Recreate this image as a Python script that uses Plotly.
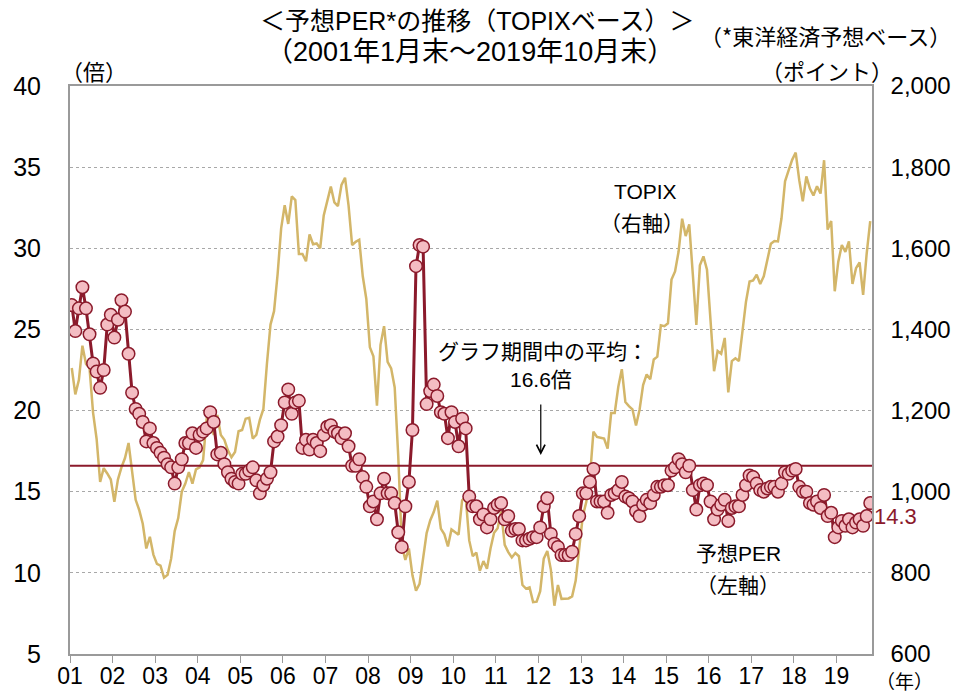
import plotly.graph_objects as go

# x軸の年ラベル
years = ["01", "02", "03", "04", "05", "06", "07", "08", "09", "10",
         "11", "12", "13", "14", "15", "16", "17", "18", "19"]

# 予想PER（倍） 2001年1月末～2019年10月末
per = [
    26.5, 24.9, 26.3, 27.6, 26.3, 24.7, 22.9, 22.4, 21.4, 22.5, 25.3, 25.9,   # 2001
    24.5, 25.6, 26.8, 26.1, 23.5, 21.1, 20.1, 19.8, 19.3, 18.1, 18.9, 18.0,   # 2002
    17.7, 17.4, 17.1, 16.7, 16.5, 15.5, 16.5, 17.0, 18.0, 18.0, 18.6, 17.7,   # 2003
    18.5, 18.7, 18.9, 19.9, 19.3, 17.3, 17.4, 16.7, 16.2, 15.8, 15.6, 15.5,   # 2004
    16.1, 16.1, 16.3, 16.5, 15.7, 14.9, 15.4, 15.8, 16.2, 18.1, 18.4, 19.1,   # 2005
    20.5, 21.3, 19.8, 20.5, 20.6, 17.7, 18.2, 17.6, 18.2, 18.0, 17.5, 18.5,   # 2006
    19.0, 19.1, 18.7, 18.6, 18.3, 18.6, 17.8, 16.6, 16.6, 17.0, 15.9, 15.3,   # 2007
    14.1, 14.4, 13.3, 14.9, 15.8, 14.9, 14.9, 14.3, 12.5, 11.6, 14.1, 15.6,   # 2008
    18.8, 28.9, 30.2, 30.1, 20.4, 21.2, 21.6, 20.9, 19.9, 19.8, 18.3, 19.9,   # 2009
    19.3, 17.8, 19.5, 18.9, 14.7, 14.1, 14.1, 13.3, 13.6, 12.8, 13.3, 14.0,   # 2010
    14.2, 14.3, 13.3, 13.5, 12.6, 12.7, 12.7, 12.0, 12.0, 12.1, 12.2, 12.2,   # 2011
    12.8, 14.1, 14.6, 12.4, 11.8, 11.6, 11.1, 11.1, 11.1, 11.3, 12.4, 13.5,   # 2012
    14.9, 14.9, 15.6, 16.4, 14.4, 14.4, 14.4, 13.7, 14.8, 14.9, 15.1, 15.6,   # 2013
    14.7, 14.6, 14.4, 13.8, 13.5, 14.2, 14.5, 14.3, 14.8, 15.3, 15.3, 15.4,   # 2014
    15.4, 16.3, 16.5, 17.0, 16.7, 16.2, 16.6, 15.1, 13.9, 15.4, 15.5, 15.4,   # 2015
    14.4, 13.3, 13.9, 14.2, 14.5, 13.2, 14.0, 14.1, 14.1, 14.8, 15.4, 16.0,   # 2016
    15.9, 15.5, 15.1, 15.0, 15.2, 15.3, 15.3, 15.0, 15.5, 16.2, 16.1, 16.3,   # 2017
    16.4, 15.3, 15.0, 15.0, 14.3, 14.2, 14.4, 14.0, 14.8, 13.5, 13.7, 12.2,   # 2018
    12.8, 13.2, 12.9, 13.3, 12.8, 13.1, 13.3, 12.9, 13.5, 14.3,               # 2019
]

# TOPIX（ポイント） 同期間の月末値
topix = [
    1305, 1240, 1275, 1360, 1315, 1305, 1195, 1130, 1024, 1058, 1045, 1030,   # 2001
    975, 1030, 1060, 1083, 1120, 1050, 980, 955, 921, 860, 889, 845,          # 2002
    822, 818, 788, 795, 835, 903, 935, 1000, 1020, 1048, 1020, 1055,          # 2003
    1060, 1078, 1179, 1190, 1140, 1189, 1140, 1128, 1102, 1085, 1098, 1149,   # 2004
    1152, 1180, 1182, 1131, 1140, 1177, 1204, 1316, 1412, 1445, 1536, 1649,   # 2005
    1706, 1660, 1728, 1719, 1586, 1586, 1568, 1634, 1610, 1612, 1600, 1681,   # 2006
    1715, 1752, 1713, 1704, 1756, 1774, 1705, 1608, 1616, 1621, 1531, 1475,   # 2007
    1356, 1334, 1212, 1362, 1408, 1320, 1304, 1257, 1087, 867, 832, 860,      # 2008
    794, 756, 773, 837, 898, 929, 950, 978, 909, 895, 865, 907,               # 2009
    901, 894, 979, 987, 880, 841, 850, 805, 829, 810, 860, 899,               # 2010
    910, 951, 869, 851, 838, 849, 841, 770, 761, 764, 728, 729,               # 2011
    755, 835, 854, 808, 719, 770, 736, 737, 737, 742, 781, 860,               # 2012
    940, 975, 1034, 1148, 1135, 1133, 1131, 1106, 1194, 1194, 1258, 1302,     # 2013
    1221, 1211, 1203, 1163, 1202, 1263, 1289, 1277, 1326, 1333, 1410, 1408,   # 2014
    1415, 1523, 1543, 1592, 1673, 1630, 1659, 1537, 1411, 1558, 1580, 1547,   # 2015
    1432, 1297, 1347, 1340, 1379, 1245, 1322, 1329, 1322, 1393, 1469, 1518,   # 2016
    1521, 1535, 1512, 1531, 1568, 1611, 1618, 1617, 1674, 1765, 1792, 1818,   # 2017
    1836, 1768, 1716, 1777, 1747, 1730, 1753, 1735, 1817, 1646, 1667, 1494,   # 2018
    1567, 1608, 1591, 1617, 1512, 1551, 1565, 1485, 1587, 1667,               # 2019
]

per_avg = 16.6

FONT = "Liberation Sans, Noto Sans CJK JP, sans-serif"
JP_FONT = "Noto Sans CJK JP, sans-serif"
RED = "#8B1A2B"
PINK = "#F4BDC3"
GOLD = "#D3B669"
BORDER = "#9A9A9A"


def label(fig, text, x, y, size=21, color="black", family=FONT):
    fig.add_annotation(text=text, x=x, y=y, xref="paper", yref="paper",
                       xanchor="center", yanchor="middle", showarrow=False,
                       font=dict(family=family, size=size, color=color))


def build():
    months = list(range(len(per)))
    fig = go.Figure()
    # TOPIXは下の軸（右側）、PERは上に重ねる軸（左側）に描く
    fig.add_trace(go.Scatter(x=months, y=topix, mode="lines", yaxis="y",
                             line=dict(color=GOLD, width=2.5), name="TOPIX"))
    fig.add_trace(go.Scatter(x=[months[0] - 0.5, months[-1] + 0.5], y=[per_avg, per_avg],
                             mode="lines", yaxis="y2", line=dict(color=RED, width=2),
                             name="平均"))
    fig.add_trace(go.Scatter(x=months, y=per, mode="lines+markers", yaxis="y2",
                             line=dict(color=RED, width=3),
                             marker=dict(size=12.5, color=PINK, line=dict(color=RED, width=1.5)),
                             name="予想PER"))

    # ページ本体の余白(8px)を差し引いた大きさにする
    fig.update_layout(
        width=954, height=685,
        margin=dict(l=62, r=90, t=78, b=39),
        paper_bgcolor="white", plot_bgcolor="white",
        showlegend=False,
        font=dict(family=FONT, size=20, color="black"),
        xaxis=dict(range=[-0.5, len(per) - 0.5], automargin=False,
                   tickvals=[i * 12 - 0.5 for i in range(len(years))],
                   ticktext=years, ticks="outside", ticklen=7, tickcolor=BORDER,
                   ticklabelstandoff=-6,
                   showline=True, linecolor=BORDER, linewidth=1.5, mirror=True,
                   showgrid=False, zeroline=False, tickfont=dict(size=23)),
        yaxis=dict(side="right", range=[600, 2000], dtick=200, tickformat=",",
                   automargin=False,
                   showgrid=True, gridcolor="#A8A8A8", griddash="dot", gridwidth=1,
                   showline=True, linecolor=BORDER, linewidth=1.5, mirror=True,
                   zeroline=False, ticks="", ticklabelstandoff=12, tickfont=dict(size=24)),
        yaxis2=dict(side="left", overlaying="y", range=[5, 40], dtick=5, automargin=False,
                    showgrid=False, showline=False, zeroline=False, ticks="",
                    ticklabelstandoff=28, tickfont=dict(size=25)),
    )

    # タイトルと軸の単位
    label(fig, "＜予想PER*の推移（TOPIXベース）＞", 0.5075, 1.1145, size=25)
    label(fig, "（2001年1月末～2019年10月末）", 0.499, 1.060, size=27)
    label(fig, "（*東洋経済予想ベース）", 0.942, 1.090, size=22, family=JP_FONT)
    label(fig, "（倍）", 0.030, 1.028, size=22, family=JP_FONT)
    label(fig, "（ポイント）", 0.944, 1.028, size=22, family=JP_FONT)
    label(fig, "（年）", 1.041, -0.0458, size=19, family=JP_FONT)
    label(fig, "14.3", 1.0287, 0.2412, size=22, color=RED)

    # 系列の説明
    label(fig, "TOPIX", 0.717, 0.815)
    label(fig, "（右軸）", 0.713, 0.7606, family=JP_FONT)
    label(fig, "グラフ期間中の平均：", 0.590, 0.5317)
    label(fig, "16.6倍", 0.587, 0.4824)
    label(fig, "予想PER", 0.833, 0.1778)
    label(fig, "（左軸）", 0.833, 0.1232, family=JP_FONT)

    fig.add_annotation(x=0.587, y=0.3504, xref="paper", yref="paper", text="",
                       showarrow=True, arrowhead=5, arrowsize=1.4, arrowwidth=1.2,
                       arrowcolor="black", ax=0, ay=-52)
    return fig


if __name__ == "__main__":
    fig = build()
    fig.write_html("out.html")
